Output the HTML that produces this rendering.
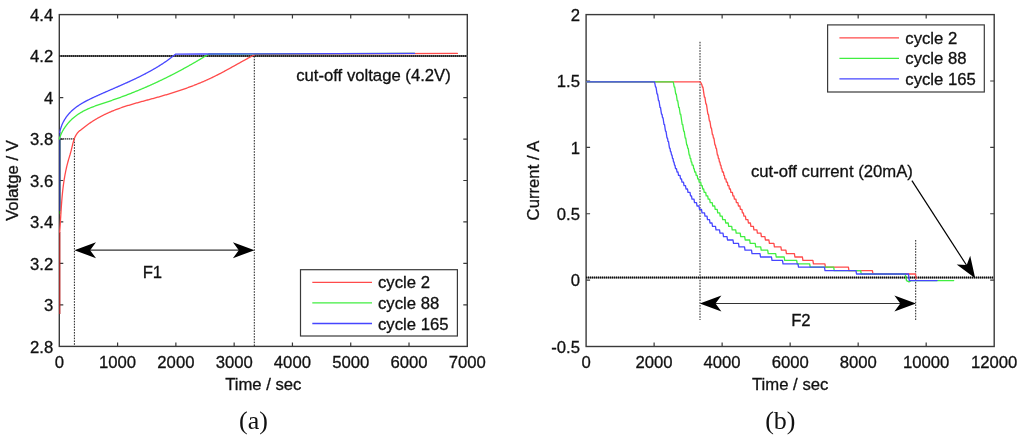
<!DOCTYPE html>
<html><head><meta charset="utf-8"><style>
html,body{margin:0;padding:0;background:#fff;}
body{width:1024px;height:441px;overflow:hidden;}
svg{display:block;font-family:"Liberation Sans", sans-serif;will-change:transform;}
svg text{fill:#111;stroke:#111;stroke-width:0.3px;}
</style></head><body>
<svg width="1024" height="441" viewBox="0 0 1024 441">
<rect x="59.3" y="14.6" width="408.0" height="331.8" fill="none" stroke="#3a3a3a" stroke-width="1.4"/>
<path d="M117.59 346.4v-4M117.59 14.6v4" stroke="#3a3a3a" stroke-width="1.2"/>
<path d="M175.87 346.4v-4M175.87 14.6v4" stroke="#3a3a3a" stroke-width="1.2"/>
<path d="M234.16 346.4v-4M234.16 14.6v4" stroke="#3a3a3a" stroke-width="1.2"/>
<path d="M292.44 346.4v-4M292.44 14.6v4" stroke="#3a3a3a" stroke-width="1.2"/>
<path d="M350.73 346.4v-4M350.73 14.6v4" stroke="#3a3a3a" stroke-width="1.2"/>
<path d="M409.01 346.4v-4M409.01 14.6v4" stroke="#3a3a3a" stroke-width="1.2"/>
<path d="M59.3 304.92h4M467.3 304.92h-4" stroke="#3a3a3a" stroke-width="1.2"/>
<path d="M59.3 263.45h4M467.3 263.45h-4" stroke="#3a3a3a" stroke-width="1.2"/>
<path d="M59.3 221.97h4M467.3 221.97h-4" stroke="#3a3a3a" stroke-width="1.2"/>
<path d="M59.3 180.50h4M467.3 180.50h-4" stroke="#3a3a3a" stroke-width="1.2"/>
<path d="M59.3 139.03h4M467.3 139.03h-4" stroke="#3a3a3a" stroke-width="1.2"/>
<path d="M59.3 97.55h4M467.3 97.55h-4" stroke="#3a3a3a" stroke-width="1.2"/>
<path d="M59.3 56.07h4M467.3 56.07h-4" stroke="#3a3a3a" stroke-width="1.2"/>
<line x1="59.3" y1="56.0" x2="467.3" y2="56.0" stroke="#888" stroke-width="1.8"/>
<line x1="59.3" y1="56.0" x2="467.3" y2="56.0" stroke="#000" stroke-width="2" stroke-dasharray="1 1"/>
<line x1="59.30" y1="138.80" x2="74.60" y2="138.80" stroke="#222" stroke-width="1.8" stroke-dasharray="1 1"/>
<line x1="74.40" y1="138.80" x2="74.40" y2="346.40" stroke="#222" stroke-width="1.0" stroke-dasharray="1.6 1.2"/>
<line x1="254.30" y1="56.00" x2="254.30" y2="346.40" stroke="#222" stroke-width="1.0" stroke-dasharray="1.6 1.2"/>
<path d="M59.8 314V232" stroke="#b52a2a" stroke-width="1.3" fill="none"/>
<path d="M59.8 214V139" stroke="#1e8a1e" stroke-width="1.3" fill="none"/>
<path d="M59.8 211V132" stroke="#2c2ca0" stroke-width="1.3" fill="none"/>
<polyline points="59.69,232.00 59.75,231.19 59.81,230.38 59.87,229.57 59.93,228.77 59.98,227.96 60.04,227.15 60.09,226.34 60.15,225.53 60.20,224.72 60.26,223.91 60.31,223.10 60.36,222.29 60.41,221.48 60.46,220.67 60.51,219.86 60.56,219.05 60.61,218.24 60.66,217.43 60.71,216.62 60.76,215.81 60.81,215.00 60.86,214.19 60.91,213.38 60.96,212.57 61.01,211.76 61.06,210.95 61.12,210.14 61.17,209.32 61.22,208.51 61.28,207.70 61.33,206.89 61.39,206.08 61.44,205.27 61.50,204.46 61.56,203.65 61.62,202.84 61.68,202.03 61.74,201.22 61.81,200.41 61.87,199.60 61.94,198.79 62.01,197.98 62.08,197.18 62.15,196.37 62.23,195.56 62.30,194.75 62.38,193.94 62.46,193.13 62.54,192.33 62.63,191.52 62.71,190.71 62.80,189.90 62.90,189.10 62.99,188.29 63.09,187.49 63.19,186.68 63.29,185.88 63.39,185.07 63.50,184.27 63.61,183.46 63.72,182.66 63.84,181.86 63.96,181.05 64.08,180.25 64.21,179.45 64.34,178.65 64.47,177.85 64.61,177.05 64.74,176.25 64.89,175.45 65.03,174.65 65.18,173.86 65.34,173.06 65.49,172.27 65.65,171.47 65.82,170.68 65.99,169.89 66.16,169.09 66.33,168.30 66.51,167.51 66.70,166.72 66.89,165.94 67.08,165.15 67.27,164.36 67.47,163.58 67.68,162.80 67.89,162.01 68.10,161.23 68.32,160.45 68.54,159.67 68.77,158.89 69.00,158.12 69.23,157.34 69.46,156.56 69.69,155.79 69.93,155.01 70.15,154.23 70.38,153.45 70.60,152.66 70.82,151.88 71.03,151.09 71.24,150.30 71.44,149.51 71.63,148.72 71.82,147.92 72.01,147.13 72.19,146.33 72.38,145.53 72.57,144.74 72.76,143.95 72.97,143.16 73.17,142.38 73.39,141.60 73.62,140.83 73.87,140.06 74.13,139.30 74.40,138.55 74.70,137.81 75.02,137.08 75.35,136.37 75.72,135.66 76.11,134.96 76.53,134.28 76.98,133.62 77.46,132.97 77.98,132.34 78.54,131.73 79.13,131.14 79.77,130.57 80.46,130.30 81.08,129.76 81.71,129.23 82.35,128.70 82.99,128.18 83.63,127.67 84.27,127.16 84.92,126.66 85.57,126.16 86.22,125.67 86.88,125.18 87.54,124.70 88.20,124.23 88.86,123.76 89.53,123.30 90.20,122.84 90.87,122.39 91.55,121.94 92.23,121.50 92.91,121.07 93.59,120.64 94.28,120.21 94.97,119.79 95.66,119.38 96.35,118.97 97.05,118.56 97.75,118.16 98.45,117.77 99.15,117.38 99.86,116.99 100.57,116.61 101.28,116.24 101.99,115.87 102.70,115.50 103.42,115.14 104.14,114.78 104.86,114.43 105.59,114.09 106.31,113.74 107.04,113.40 107.77,113.07 108.50,112.74 109.23,112.41 109.97,112.09 110.70,111.78 111.44,111.46 112.18,111.15 112.92,110.85 113.67,110.55 114.41,110.25 115.16,109.96 115.91,109.67 116.66,109.39 117.41,109.10 118.16,108.83 118.92,108.55 119.67,108.28 120.43,108.01 121.19,107.75 121.95,107.49 122.71,107.23 123.47,106.97 124.24,106.72 125.00,106.47 125.77,106.22 126.53,105.98 127.30,105.73 128.07,105.49 128.84,105.26 129.61,105.02 130.38,104.79 131.16,104.56 131.93,104.33 132.70,104.10 133.48,103.87 134.25,103.65 135.03,103.43 135.81,103.21 136.58,102.99 137.36,102.77 138.14,102.55 138.92,102.33 139.70,102.12 140.48,101.90 141.25,101.69 142.04,101.48 142.82,101.26 143.60,101.05 144.38,100.84 145.16,100.63 145.94,100.42 146.72,100.21 147.50,100.00 148.28,99.79 149.06,99.58 149.84,99.37 150.63,99.16 151.41,98.94 152.19,98.73 152.97,98.52 153.75,98.31 154.53,98.09 155.31,97.88 156.09,97.66 156.87,97.44 157.64,97.23 158.42,97.01 159.20,96.79 159.98,96.57 160.75,96.35 161.53,96.12 162.31,95.90 163.08,95.68 163.86,95.45 164.63,95.22 165.41,94.99 166.18,94.76 166.95,94.53 167.73,94.30 168.50,94.07 169.27,93.83 170.04,93.60 170.81,93.36 171.58,93.12 172.35,92.88 173.12,92.64 173.89,92.40 174.66,92.15 175.42,91.90 176.19,91.66 176.96,91.41 177.72,91.16 178.49,90.91 179.25,90.65 180.01,90.40 180.78,90.14 181.54,89.88 182.30,89.62 183.06,89.36 183.82,89.09 184.58,88.83 185.34,88.56 186.10,88.29 186.85,88.02 187.61,87.75 188.37,87.47 189.12,87.20 189.88,86.92 190.63,86.64 191.38,86.35 192.13,86.07 192.89,85.78 193.64,85.50 194.39,85.20 195.13,84.91 195.88,84.62 196.63,84.32 197.37,84.02 198.12,83.72 198.86,83.42 199.61,83.11 200.35,82.80 201.09,82.49 201.83,82.18 202.57,81.87 203.31,81.55 204.05,81.23 204.79,80.91 205.52,80.58 206.26,80.26 206.99,79.93 207.72,79.60 208.46,79.26 209.19,78.93 209.92,78.59 210.65,78.24 211.37,77.90 212.10,77.55 212.83,77.20 213.55,76.85 214.28,76.50 215.00,76.14 215.72,75.78 216.44,75.42 217.16,75.06 217.88,74.69 218.60,74.32 219.32,73.95 220.03,73.58 220.75,73.21 221.46,72.83 222.18,72.45 222.89,72.08 223.61,71.70 224.32,71.31 225.03,70.93 225.74,70.55 226.45,70.16 227.16,69.78 227.87,69.39 228.58,69.00 229.29,68.61 230.00,68.22 230.71,67.83 231.42,67.44 232.12,67.05 232.83,66.65 233.54,66.26 234.25,65.87 234.95,65.47 235.66,65.08 236.37,64.69 237.07,64.29 237.78,63.90 238.48,63.51 239.19,63.11 239.90,62.72 240.60,62.33 241.31,61.94 242.02,61.54 242.72,61.15 243.43,60.76 244.14,60.37 244.84,59.98 245.55,59.60 246.26,59.21 246.97,58.82 247.67,58.44 248.38,58.05 249.09,57.67 249.80,57.29 250.51,56.91 251.22,56.53 251.93,56.16 252.64,55.78 253.35,55.41 254.07,55.04 254.78,54.67 255.49,54.31 300.00,54.00 457.40,53.40" fill="none" stroke="#ff4a4a" stroke-width="1.3" stroke-linejoin="round" stroke-linecap="round"/>
<polyline points="59.34,138.99 59.57,138.22 59.82,137.45 60.08,136.69 60.36,135.93 60.66,135.18 60.97,134.43 61.30,133.70 61.65,132.96 62.00,132.24 62.37,131.52 62.76,130.80 63.16,130.10 63.57,129.40 64.00,128.71 64.44,128.03 64.89,127.35 65.35,126.68 65.83,126.02 66.32,125.37 66.82,124.72 67.33,124.09 67.85,123.46 68.38,122.84 68.92,122.24 69.47,121.64 70.04,121.05 70.61,120.47 71.19,119.90 71.77,119.34 72.37,118.79 72.97,118.24 73.59,117.72 74.21,117.20 74.83,116.69 75.47,116.19 76.11,115.70 76.76,115.23 77.41,114.77 78.07,114.31 78.74,113.87 79.41,113.44 80.08,113.02 80.76,112.61 81.45,112.20 82.14,111.81 82.84,111.42 83.54,111.05 84.25,110.68 84.96,110.32 85.67,109.97 86.39,109.62 87.12,109.29 87.84,108.96 88.57,108.63 89.31,108.31 90.05,108.00 90.79,107.69 91.53,107.39 92.28,107.10 93.02,106.81 93.78,106.52 94.53,106.24 95.29,105.96 96.04,105.68 96.80,105.41 97.57,105.14 98.33,104.88 99.10,104.61 99.86,104.35 100.63,104.09 101.40,103.84 102.17,103.58 102.94,103.33 103.71,103.07 104.48,102.82 105.25,102.57 106.02,102.31 106.79,102.06 107.56,101.80 108.33,101.55 109.10,101.29 109.87,101.03 110.64,100.77 111.40,100.51 112.17,100.25 112.94,99.99 113.70,99.72 114.47,99.46 115.23,99.19 115.99,98.92 116.76,98.65 117.52,98.38 118.28,98.11 119.04,97.83 119.80,97.56 120.56,97.28 121.32,97.00 122.08,96.72 122.83,96.44 123.59,96.16 124.35,95.88 125.10,95.59 125.86,95.31 126.61,95.02 127.37,94.73 128.12,94.44 128.87,94.15 129.62,93.86 130.38,93.56 131.13,93.27 131.88,92.97 132.63,92.68 133.37,92.38 134.12,92.08 134.87,91.77 135.62,91.47 136.36,91.17 137.11,90.86 137.85,90.56 138.60,90.25 139.34,89.94 140.09,89.63 140.83,89.32 141.57,89.00 142.31,88.69 143.05,88.37 143.79,88.06 144.53,87.74 145.27,87.42 146.01,87.10 146.75,86.78 147.48,86.45 148.22,86.13 148.96,85.80 149.69,85.47 150.43,85.15 151.16,84.82 151.90,84.48 152.63,84.15 153.36,83.82 154.09,83.48 154.82,83.15 155.55,82.81 156.28,82.47 157.01,82.13 157.74,81.79 158.47,81.45 159.20,81.11 159.93,80.76 160.65,80.41 161.38,80.07 162.10,79.72 162.83,79.37 163.55,79.02 164.28,78.66 165.00,78.31 165.72,77.96 166.45,77.60 167.17,77.24 167.89,76.88 168.61,76.52 169.33,76.16 170.05,75.80 170.77,75.44 171.48,75.07 172.20,74.71 172.92,74.34 173.63,73.97 174.35,73.60 175.07,73.23 175.78,72.86 176.49,72.48 177.21,72.11 177.92,71.73 178.63,71.36 179.35,70.98 180.06,70.60 180.77,70.22 181.48,69.84 182.19,69.45 182.90,69.07 183.61,68.68 184.31,68.30 185.02,67.91 185.73,67.52 186.44,67.13 187.14,66.74 187.85,66.34 188.55,65.95 189.26,65.55 189.96,65.16 190.66,64.76 191.37,64.36 192.07,63.96 192.77,63.56 193.47,63.16 194.17,62.75 194.87,62.35 195.57,61.94 196.27,61.54 196.97,61.13 197.67,60.72 198.37,60.31 199.07,59.89 199.76,59.48 200.46,59.07 201.15,58.65 201.85,58.23 202.54,57.82 203.24,57.40 203.93,56.98 204.62,56.55 205.32,56.13 206.01,55.71 206.70,55.28 207.39,54.86 208.08,54.43 208.77,54.00 240.00,54.00 414.60,53.40" fill="none" stroke="#40ee40" stroke-width="1.3" stroke-linejoin="round" stroke-linecap="round"/>
<polyline points="59.70,132.43 59.89,131.53 60.10,130.64 60.32,129.77 60.56,128.92 60.82,128.07 61.09,127.25 61.38,126.43 61.68,125.63 61.99,124.84 62.32,124.06 62.67,123.30 63.02,122.55 63.40,121.81 63.78,121.08 64.18,120.37 64.59,119.67 65.01,118.98 65.45,118.30 65.89,117.64 66.35,116.98 66.82,116.34 67.31,115.71 67.80,115.09 68.30,114.48 68.82,113.88 69.34,113.30 69.88,112.72 70.42,112.15 70.98,111.60 71.54,111.05 72.12,110.52 72.70,109.99 73.29,109.47 73.89,108.97 74.50,108.47 75.11,107.98 75.74,107.50 76.37,107.03 77.01,106.57 77.65,106.11 78.30,105.66 78.96,105.22 79.62,104.79 80.29,104.37 80.97,103.95 81.65,103.53 82.34,103.13 83.03,102.73 83.73,102.33 84.43,101.94 85.13,101.56 85.84,101.18 86.55,100.81 87.27,100.44 87.99,100.07 88.71,99.71 89.44,99.35 90.17,99.00 90.90,98.65 91.63,98.30 92.36,97.95 93.10,97.61 93.83,97.27 94.57,96.93 95.31,96.59 96.05,96.25 96.79,95.92 97.53,95.58 98.27,95.25 99.01,94.92 99.75,94.59 100.49,94.26 101.23,93.93 101.97,93.60 102.72,93.27 103.46,92.94 104.20,92.62 104.94,92.29 105.68,91.96 106.42,91.64 107.17,91.31 107.91,90.99 108.65,90.67 109.39,90.34 110.13,90.02 110.88,89.70 111.62,89.37 112.36,89.05 113.10,88.73 113.84,88.41 114.58,88.08 115.33,87.76 116.07,87.44 116.81,87.11 117.55,86.79 118.29,86.47 119.03,86.14 119.76,85.82 120.50,85.49 121.24,85.17 121.98,84.84 122.72,84.51 123.45,84.19 124.19,83.86 124.93,83.53 125.66,83.20 126.40,82.87 127.13,82.54 127.87,82.20 128.60,81.87 129.33,81.54 130.06,81.20 130.80,80.86 131.53,80.53 132.26,80.19 132.98,79.85 133.71,79.50 134.44,79.16 135.17,78.81 135.89,78.47 136.62,78.12 137.34,77.77 138.07,77.42 138.79,77.07 139.51,76.71 140.23,76.35 140.95,76.00 141.67,75.64 142.38,75.27 143.10,74.91 143.81,74.54 144.53,74.17 145.24,73.80 145.95,73.43 146.66,73.05 147.37,72.68 148.08,72.30 148.79,71.91 149.49,71.53 150.20,71.14 150.90,70.75 151.60,70.36 152.30,69.96 153.00,69.56 153.70,69.16 154.39,68.76 155.09,68.35 155.78,67.94 156.47,67.53 157.16,67.11 157.85,66.70 158.54,66.27 159.22,65.85 159.91,65.42 160.59,64.99 161.27,64.55 161.95,64.12 162.63,63.67 163.30,63.23 163.97,62.78 164.65,62.33 165.32,61.87 165.98,61.41 166.65,60.95 167.32,60.48 167.98,60.01 168.64,59.53 169.30,59.05 169.95,58.57 170.61,58.08 171.26,57.59 171.91,57.10 172.56,56.60 173.21,56.09 173.85,55.59 174.50,55.07 175.14,54.56 175.78,54.04 200.00,54.00 414.60,53.40" fill="none" stroke="#4646ff" stroke-width="1.3" stroke-linejoin="round" stroke-linecap="round"/>
<text x="59.3" y="367.8" text-anchor="middle" font-size="16.7" >0</text>
<text x="117.6" y="367.8" text-anchor="middle" font-size="16.7" >1000</text>
<text x="175.9" y="367.8" text-anchor="middle" font-size="16.7" >2000</text>
<text x="234.2" y="367.8" text-anchor="middle" font-size="16.7" >3000</text>
<text x="292.4" y="367.8" text-anchor="middle" font-size="16.7" >4000</text>
<text x="350.7" y="367.8" text-anchor="middle" font-size="16.7" >5000</text>
<text x="409.0" y="367.8" text-anchor="middle" font-size="16.7" >6000</text>
<text x="467.3" y="367.8" text-anchor="middle" font-size="16.7" >7000</text>
<text x="53.2" y="352.5" text-anchor="end" font-size="16.7" >2.8</text>
<text x="53.2" y="311.0" text-anchor="end" font-size="16.7" >3</text>
<text x="53.2" y="269.6" text-anchor="end" font-size="16.7" >3.2</text>
<text x="53.2" y="228.1" text-anchor="end" font-size="16.7" >3.4</text>
<text x="53.2" y="186.6" text-anchor="end" font-size="16.7" >3.6</text>
<text x="53.2" y="145.1" text-anchor="end" font-size="16.7" >3.8</text>
<text x="53.2" y="103.6" text-anchor="end" font-size="16.7" >4</text>
<text x="53.2" y="62.2" text-anchor="end" font-size="16.7" >4.2</text>
<text x="53.2" y="20.7" text-anchor="end" font-size="16.7" >4.4</text>
<text x="263.3" y="389.6" text-anchor="middle" font-size="16.7" >Time / sec</text>
<text transform="translate(17.9,180.5) rotate(-90)" text-anchor="middle" font-size="16.7">Volatge / V</text>
<text x="253.5" y="428.5" text-anchor="middle" font-size="26" font-family="Liberation Serif, serif" style="stroke:none">(a)</text>
<text x="296.2" y="81.1" text-anchor="start" font-size="16.7" >cut-off voltage (4.2V)</text>
<line x1="88" y1="250.2" x2="241" y2="250.2" stroke="#333" stroke-width="1.3"/>
<polygon points="74.4,250.2 96.0,242.2 90.1,250.2 96.0,258.2" fill="#000"/>
<polygon points="254.5,250.2 232.9,258.2 238.8,250.2 232.9,242.2" fill="#000"/>
<text x="152.4" y="277.5" text-anchor="middle" font-size="16.7" >F1</text>
<rect x="300.5" y="269.7" width="156.9" height="66.3" fill="#fff" stroke="#3a3a3a" stroke-width="1.2"/>
<line x1="312.3" y1="282.4" x2="372" y2="282.4" stroke="#ff4a4a" stroke-width="1.3"/>
<text x="378.0" y="288.4" text-anchor="start" font-size="16.7" >cycle 2</text>
<line x1="312.3" y1="302.8" x2="372" y2="302.8" stroke="#40ee40" stroke-width="1.3"/>
<text x="378.0" y="308.8" text-anchor="start" font-size="16.7" >cycle 88</text>
<line x1="312.3" y1="323.5" x2="372" y2="323.5" stroke="#4646ff" stroke-width="1.3"/>
<text x="378.0" y="329.5" text-anchor="start" font-size="16.7" >cycle 165</text>
<rect x="586.1" y="14.6" width="408.1" height="331.9" fill="none" stroke="#3a3a3a" stroke-width="1.4"/>
<path d="M654.12 346.5v-4M654.12 14.6v4" stroke="#3a3a3a" stroke-width="1.2"/>
<path d="M722.13 346.5v-4M722.13 14.6v4" stroke="#3a3a3a" stroke-width="1.2"/>
<path d="M790.15 346.5v-4M790.15 14.6v4" stroke="#3a3a3a" stroke-width="1.2"/>
<path d="M858.17 346.5v-4M858.17 14.6v4" stroke="#3a3a3a" stroke-width="1.2"/>
<path d="M926.18 346.5v-4M926.18 14.6v4" stroke="#3a3a3a" stroke-width="1.2"/>
<path d="M586.1 280.12h4M994.2 280.12h-4" stroke="#3a3a3a" stroke-width="1.2"/>
<path d="M586.1 213.74h4M994.2 213.74h-4" stroke="#3a3a3a" stroke-width="1.2"/>
<path d="M586.1 147.36h4M994.2 147.36h-4" stroke="#3a3a3a" stroke-width="1.2"/>
<path d="M586.1 80.98h4M994.2 80.98h-4" stroke="#3a3a3a" stroke-width="1.2"/>
<line x1="586.1" y1="277.6" x2="994.2" y2="277.6" stroke="#888" stroke-width="1.8"/>
<line x1="586.1" y1="277.6" x2="994.2" y2="277.6" stroke="#000" stroke-width="2" stroke-dasharray="1 1"/>
<line x1="700.00" y1="41.80" x2="700.00" y2="320.00" stroke="#222" stroke-width="1.0" stroke-dasharray="1.6 1.2"/>
<line x1="915.70" y1="240.00" x2="915.70" y2="320.00" stroke="#222" stroke-width="1.0" stroke-dasharray="1.6 1.2"/>
<polyline points="586.80,81.80 699.90,81.80 700.40,82.18 700.90,82.88 701.40,83.79 701.90,84.87 702.40,87.00 702.90,87.00 703.40,90.40 703.90,93.80 704.40,97.20 704.90,97.20 705.40,100.60 705.90,104.00 706.40,104.00 706.90,107.40 707.40,110.80 707.90,114.20 708.40,114.20 708.90,117.60 709.40,121.00 709.90,121.00 710.40,124.40 710.90,127.80 711.40,127.80 711.90,131.20 712.40,134.60 712.90,134.60 713.40,138.00 713.90,138.00 714.40,141.40 714.90,144.80 715.40,144.80 715.90,148.20 716.40,148.20 716.90,151.60 717.40,155.00 717.90,155.00 718.40,158.40 718.90,158.40 719.40,161.80 719.90,161.80 720.40,165.20 720.90,165.20 721.40,168.60 721.90,168.60 722.40,172.00 722.90,172.00 723.40,172.00 723.90,175.40 724.40,175.40 724.90,178.80 725.40,178.80 725.90,178.80 726.40,182.20 726.90,182.20 727.40,182.20 727.90,185.60 728.40,185.60 728.90,185.60 729.40,189.00 729.90,189.00 730.40,189.00 730.90,192.40 731.40,192.40 731.90,192.40 732.40,192.40 732.90,195.80 733.40,195.80 733.90,195.80 734.40,199.20 734.90,199.20 735.40,199.20 735.90,199.20 736.40,202.60 736.90,202.60 737.40,202.60 737.90,202.60 738.40,206.00 738.90,206.00 739.40,206.00 739.90,206.00 740.40,209.40 740.90,209.40 741.40,209.40 741.90,209.40 742.40,212.80 742.90,212.80 743.40,212.80 743.90,216.20 744.40,216.20 744.90,216.20 745.40,216.20 745.90,219.60 746.40,219.60 746.90,219.60 747.40,219.60 747.90,219.60 748.40,223.00 748.90,223.00 749.40,223.00 749.90,223.00 750.40,223.00 750.90,226.40 751.40,226.40 751.90,226.40 752.40,226.40 752.90,226.40 753.40,226.40 753.90,229.80 754.40,229.80 754.90,229.80 755.40,229.80 755.90,229.80 756.40,229.80 756.90,229.80 757.40,233.20 757.90,233.20 758.40,233.20 758.90,233.20 759.40,233.20 759.90,233.20 760.40,233.20 760.90,233.20 761.40,236.60 761.90,236.60 762.40,236.60 762.90,236.60 763.40,236.60 763.90,236.60 764.40,236.60 764.90,236.60 765.40,240.00 765.90,240.00 766.40,240.00 766.90,240.00 767.40,240.00 767.90,240.00 768.40,240.00 768.90,240.00 769.40,243.40 769.90,243.40 770.40,243.40 770.90,243.40 771.40,243.40 771.90,243.40 772.40,243.40 772.90,243.40 773.40,243.40 773.90,243.40 774.40,246.80 774.90,246.80 775.40,246.80 775.90,246.80 776.40,246.80 776.90,246.80 777.40,246.80 777.90,246.80 778.40,246.80 778.90,246.80 779.40,246.80 779.90,246.80 780.40,246.80 780.90,246.80 781.40,250.20 781.90,250.20 782.40,250.20 782.90,250.20 783.40,250.20 783.90,250.20 784.40,250.20 784.90,250.20 785.40,250.20 785.90,250.20 786.40,253.60 786.90,253.60 787.40,253.60 787.90,253.60 788.40,253.60 788.90,253.60 789.40,253.60 789.90,253.60 790.40,253.60 790.90,253.60 791.40,253.60 791.90,253.60 792.40,253.60 792.90,253.60 793.40,253.60 793.90,253.60 794.40,253.60 794.90,257.00 795.40,257.00 795.90,257.00 796.40,257.00 796.90,257.00 797.40,257.00 797.90,257.00 798.40,257.00 798.90,257.00 799.40,257.00 799.90,257.00 800.40,257.00 800.90,257.00 801.40,257.00 801.90,257.00 802.40,257.00 802.90,260.40 803.40,260.40 803.90,260.40 804.40,260.40 804.90,260.40 805.40,260.40 805.90,260.40 806.40,260.40 806.90,260.40 807.40,260.40 807.90,260.40 808.40,260.40 808.90,260.40 809.40,260.40 809.90,260.40 810.40,260.40 810.90,260.40 811.40,260.40 811.90,260.40 812.40,260.40 812.90,260.40 813.40,263.80 813.90,263.80 814.40,263.80 814.90,263.80 815.40,263.80 815.90,263.80 816.40,263.80 816.90,263.80 817.40,263.80 817.90,263.80 818.40,263.80 818.90,263.80 819.40,263.80 819.90,263.80 820.40,263.80 820.90,263.80 821.40,263.80 821.90,263.80 822.40,263.80 822.90,263.80 823.40,263.80 823.90,263.80 824.40,263.80 824.90,263.80 825.40,267.20 825.90,267.20 826.40,267.20 826.90,267.20 827.40,267.20 827.90,267.20 828.40,267.20 828.90,267.20 829.40,267.20 829.90,267.20 830.40,267.20 830.90,267.20 831.40,267.20 831.90,267.20 832.40,267.20 832.90,267.20 833.40,267.20 833.90,267.20 834.40,267.20 834.90,267.20 835.40,267.20 835.90,267.20 836.40,267.20 836.90,267.20 837.40,267.20 837.90,267.20 838.40,267.20 838.90,267.20 839.40,267.20 839.90,267.20 840.40,267.20 840.90,267.20 841.40,267.20 841.90,267.20 842.40,267.20 842.90,267.20 843.40,267.20 843.90,267.20 844.40,267.20 844.90,267.20 845.40,267.20 845.90,267.20 846.40,267.20 846.90,267.20 847.40,267.20 847.90,267.20 848.40,267.20 848.90,270.60 849.40,270.60 849.90,270.60 850.40,270.60 850.90,270.60 851.40,270.60 851.90,270.60 852.40,270.60 852.90,270.60 853.40,270.60 853.90,270.60 854.40,270.60 854.90,270.60 855.40,270.60 855.90,270.60 856.40,270.60 856.90,270.60 857.40,270.60 857.90,270.60 858.40,270.60 858.90,270.60 859.40,270.60 859.90,270.60 860.40,270.60 860.90,270.60 861.40,270.60 861.90,270.60 862.40,270.60 862.90,270.60 863.40,270.60 863.90,270.60 864.40,270.60 864.90,270.60 865.40,270.60 865.90,270.60 866.40,270.60 866.90,270.60 867.40,270.60 867.90,270.60 868.40,270.60 868.90,270.60 869.40,270.60 869.90,270.60 870.40,270.60 870.90,270.60 871.40,270.60 871.90,270.60 872.40,270.60 872.90,274.00 873.40,274.00 873.90,274.00 874.40,274.00 874.90,274.00 875.40,274.00 875.90,274.00 876.40,274.00 876.90,274.00 877.40,274.00 877.90,274.00 878.40,274.00 878.90,274.00 879.40,274.00 879.90,274.00 880.40,274.00 880.90,274.00 881.40,274.00 881.90,274.00 882.40,274.00 882.90,274.00 883.40,274.00 883.90,274.00 884.40,274.00 884.90,274.00 885.40,274.00 885.90,274.00 886.40,274.00 886.90,274.00 887.40,274.00 887.90,274.00 888.40,274.00 888.90,274.00 889.40,274.00 889.90,274.00 890.40,274.00 890.90,274.00 891.40,274.00 891.90,274.00 892.40,274.00 892.90,274.00 893.40,274.00 893.90,274.00 894.40,274.00 894.90,274.00 895.40,274.00 895.90,274.00 896.40,274.00 896.90,274.00 897.40,274.00 897.90,274.00 898.40,274.00 898.90,274.00 899.40,274.00 899.90,274.00 900.40,274.00 900.90,274.00 901.40,274.00 901.90,274.00 902.40,274.00 902.90,274.00 903.40,274.00 903.90,274.00 904.40,274.00 904.90,274.00 905.40,274.00 905.90,274.00 906.40,274.00 906.90,274.00 907.40,274.00 907.90,274.00 908.40,274.00 908.90,274.00 909.40,274.00 909.90,274.00 910.40,274.00 910.90,274.00 911.40,274.00 911.90,274.00 912.40,274.00 912.90,274.00 913.40,274.00 913.90,274.00 914.40,274.00 914.90,274.00 915.40,274.00 916.20,278.40" fill="none" stroke="#ff4a4a" stroke-width="1.3" stroke-linejoin="round" stroke-linecap="round"/>
<polyline points="586.80,81.80 673.20,81.80 673.70,84.07 674.20,87.00 674.70,87.00 675.20,90.40 675.70,93.80 676.20,93.80 676.70,97.20 677.20,100.60 677.70,100.60 678.20,104.00 678.70,107.40 679.20,107.40 679.70,110.80 680.20,114.20 680.70,114.20 681.20,117.60 681.70,121.00 682.20,124.40 682.70,124.40 683.20,127.80 683.70,131.20 684.20,131.20 684.70,134.60 685.20,138.00 685.70,138.00 686.20,141.40 686.70,144.80 687.20,144.80 687.70,148.20 688.20,148.20 688.70,151.60 689.20,155.00 689.70,155.00 690.20,158.40 690.70,158.40 691.20,161.80 691.70,161.80 692.20,165.20 692.70,165.20 693.20,165.20 693.70,168.60 694.20,168.60 694.70,172.00 695.20,172.00 695.70,172.00 696.20,175.40 696.70,175.40 697.20,175.40 697.70,178.80 698.20,178.80 698.70,178.80 699.20,182.20 699.70,182.20 700.20,182.20 700.70,182.20 701.20,185.60 701.70,185.60 702.20,185.60 702.70,189.00 703.20,189.00 703.70,189.00 704.20,192.40 704.70,192.40 705.20,192.40 705.70,192.40 706.20,195.80 706.70,195.80 707.20,195.80 707.70,195.80 708.20,199.20 708.70,199.20 709.20,199.20 709.70,199.20 710.20,202.60 710.70,202.60 711.20,202.60 711.70,202.60 712.20,202.60 712.70,206.00 713.20,206.00 713.70,206.00 714.20,206.00 714.70,206.00 715.20,209.40 715.70,209.40 716.20,209.40 716.70,209.40 717.20,209.40 717.70,212.80 718.20,212.80 718.70,212.80 719.20,212.80 719.70,212.80 720.20,216.20 720.70,216.20 721.20,216.20 721.70,216.20 722.20,216.20 722.70,219.60 723.20,219.60 723.70,219.60 724.20,219.60 724.70,219.60 725.20,219.60 725.70,223.00 726.20,223.00 726.70,223.00 727.20,223.00 727.70,223.00 728.20,223.00 728.70,226.40 729.20,226.40 729.70,226.40 730.20,226.40 730.70,226.40 731.20,226.40 731.70,226.40 732.20,229.80 732.70,229.80 733.20,229.80 733.70,229.80 734.20,229.80 734.70,229.80 735.20,229.80 735.70,229.80 736.20,233.20 736.70,233.20 737.20,233.20 737.70,233.20 738.20,233.20 738.70,233.20 739.20,233.20 739.70,233.20 740.20,233.20 740.70,236.60 741.20,236.60 741.70,236.60 742.20,236.60 742.70,236.60 743.20,236.60 743.70,236.60 744.20,236.60 744.70,236.60 745.20,240.00 745.70,240.00 746.20,240.00 746.70,240.00 747.20,240.00 747.70,240.00 748.20,240.00 748.70,240.00 749.20,240.00 749.70,240.00 750.20,243.40 750.70,243.40 751.20,243.40 751.70,243.40 752.20,243.40 752.70,243.40 753.20,243.40 753.70,243.40 754.20,243.40 754.70,243.40 755.20,243.40 755.70,246.80 756.20,246.80 756.70,246.80 757.20,246.80 757.70,246.80 758.20,246.80 758.70,246.80 759.20,246.80 759.70,246.80 760.20,246.80 760.70,246.80 761.20,250.20 761.70,250.20 762.20,250.20 762.70,250.20 763.20,250.20 763.70,250.20 764.20,250.20 764.70,250.20 765.20,250.20 765.70,250.20 766.20,250.20 766.70,250.20 767.20,250.20 767.70,250.20 768.20,253.60 768.70,253.60 769.20,253.60 769.70,253.60 770.20,253.60 770.70,253.60 771.20,253.60 771.70,253.60 772.20,253.60 772.70,253.60 773.20,253.60 773.70,253.60 774.20,253.60 774.70,253.60 775.20,253.60 775.70,253.60 776.20,257.00 776.70,257.00 777.20,257.00 777.70,257.00 778.20,257.00 778.70,257.00 779.20,257.00 779.70,257.00 780.20,257.00 780.70,257.00 781.20,257.00 781.70,257.00 782.20,257.00 782.70,257.00 783.20,257.00 783.70,257.00 784.20,257.00 784.70,260.40 785.20,260.40 785.70,260.40 786.20,260.40 786.70,260.40 787.20,260.40 787.70,260.40 788.20,260.40 788.70,260.40 789.20,260.40 789.70,260.40 790.20,260.40 790.70,260.40 791.20,260.40 791.70,260.40 792.20,260.40 792.70,260.40 793.20,260.40 793.70,260.40 794.20,260.40 794.70,260.40 795.20,260.40 795.70,260.40 796.20,260.40 796.70,260.40 797.20,263.80 797.70,263.80 798.20,263.80 798.70,263.80 799.20,263.80 799.70,263.80 800.20,263.80 800.70,263.80 801.20,263.80 801.70,263.80 802.20,263.80 802.70,263.80 803.20,263.80 803.70,263.80 804.20,263.80 804.70,263.80 805.20,263.80 805.70,263.80 806.20,263.80 806.70,263.80 807.20,263.80 807.70,263.80 808.20,263.80 808.70,263.80 809.20,263.80 809.70,263.80 810.20,267.20 810.70,267.20 811.20,267.20 811.70,267.20 812.20,267.20 812.70,267.20 813.20,267.20 813.70,267.20 814.20,267.20 814.70,267.20 815.20,267.20 815.70,267.20 816.20,267.20 816.70,267.20 817.20,267.20 817.70,267.20 818.20,267.20 818.70,267.20 819.20,267.20 819.70,267.20 820.20,267.20 820.70,267.20 821.20,267.20 821.70,267.20 822.20,267.20 822.70,267.20 823.20,267.20 823.70,267.20 824.20,267.20 824.70,267.20 825.20,267.20 825.70,267.20 826.20,267.20 826.70,267.20 827.20,267.20 827.70,267.20 828.20,267.20 828.70,267.20 829.20,267.20 829.70,267.20 830.20,267.20 830.70,267.20 831.20,267.20 831.70,267.20 832.20,267.20 832.70,267.20 833.20,267.20 833.70,267.20 834.20,270.60 834.70,270.60 835.20,270.60 835.70,270.60 836.20,270.60 836.70,270.60 837.20,270.60 837.70,270.60 838.20,270.60 838.70,270.60 839.20,270.60 839.70,270.60 840.20,270.60 840.70,270.60 841.20,270.60 841.70,270.60 842.20,270.60 842.70,270.60 843.20,270.60 843.70,270.60 844.20,270.60 844.70,270.60 845.20,270.60 845.70,270.60 846.20,270.60 846.70,270.60 847.20,270.60 847.70,270.60 848.20,270.60 848.70,270.60 849.20,270.60 849.70,270.60 850.20,270.60 850.70,270.60 851.20,270.60 851.70,270.60 852.20,270.60 852.70,270.60 853.20,270.60 853.70,270.60 854.20,270.60 854.70,270.60 855.20,270.60 855.70,270.60 856.20,270.60 856.70,270.60 857.20,270.60 857.70,270.60 858.20,270.60 858.70,270.60 859.20,270.60 859.70,270.60 860.20,270.60 860.70,270.60 861.20,274.00 861.70,274.00 862.20,274.00 862.70,274.00 863.20,274.00 863.70,274.00 864.20,274.00 864.70,274.00 865.20,274.00 865.70,274.00 866.20,274.00 866.70,274.00 867.20,274.00 867.70,274.00 868.20,274.00 868.70,274.00 869.20,274.00 869.70,274.00 870.20,274.00 870.70,274.00 871.20,274.00 871.70,274.00 872.20,274.00 872.70,274.00 873.20,274.00 873.70,274.00 874.20,274.00 874.70,274.00 875.20,274.00 875.70,274.00 876.20,274.00 876.70,274.00 877.20,274.00 877.70,274.00 878.20,274.00 878.70,274.00 879.20,274.00 879.70,274.00 880.20,274.00 880.70,274.00 881.20,274.00 881.70,274.00 882.20,274.00 882.70,274.00 883.20,274.00 883.70,274.00 884.20,274.00 884.70,274.00 885.20,274.00 885.70,274.00 886.20,274.00 886.70,274.00 887.20,274.00 887.70,274.00 888.20,274.00 888.70,274.00 889.20,274.00 889.70,274.00 890.20,274.00 890.70,274.00 891.20,274.00 891.70,274.00 892.20,274.00 892.70,274.00 893.20,274.00 893.70,274.00 894.20,274.00 894.70,274.00 895.20,274.00 895.70,274.00 896.20,274.00 896.70,274.00 897.20,274.00 897.70,274.00 898.20,274.00 898.70,274.00 899.20,274.00 899.70,274.00 900.20,274.00 900.70,274.00 901.20,274.00 901.70,274.00 902.20,274.00 902.70,274.00 903.20,274.00 903.70,274.00 904.20,274.00 904.70,274.00 905.20,274.00 906.50,280.60 909.00,281.90 911.00,280.60 953.70,280.60" fill="none" stroke="#40ee40" stroke-width="1.3" stroke-linejoin="round" stroke-linecap="round"/>
<polyline points="586.80,81.80 654.50,81.80 655.00,84.06 655.50,87.00 656.00,87.00 656.50,90.40 657.00,93.80 657.50,93.80 658.00,97.20 658.50,100.60 659.00,100.60 659.50,104.00 660.00,107.40 660.50,107.40 661.00,110.80 661.50,114.20 662.00,114.20 662.50,117.60 663.00,117.60 663.50,121.00 664.00,124.40 664.50,124.40 665.00,127.80 665.50,131.20 666.00,131.20 666.50,134.60 667.00,138.00 667.50,138.00 668.00,141.40 668.50,141.40 669.00,144.80 669.50,148.20 670.00,148.20 670.50,151.60 671.00,151.60 671.50,155.00 672.00,155.00 672.50,158.40 673.00,158.40 673.50,161.80 674.00,161.80 674.50,165.20 675.00,165.20 675.50,168.60 676.00,168.60 676.50,168.60 677.00,172.00 677.50,172.00 678.00,172.00 678.50,175.40 679.00,175.40 679.50,175.40 680.00,175.40 680.50,178.80 681.00,178.80 681.50,178.80 682.00,182.20 682.50,182.20 683.00,182.20 683.50,182.20 684.00,185.60 684.50,185.60 685.00,185.60 685.50,185.60 686.00,189.00 686.50,189.00 687.00,189.00 687.50,189.00 688.00,192.40 688.50,192.40 689.00,192.40 689.50,192.40 690.00,192.40 690.50,195.80 691.00,195.80 691.50,195.80 692.00,199.20 692.50,199.20 693.00,199.20 693.50,199.20 694.00,199.20 694.50,202.60 695.00,202.60 695.50,202.60 696.00,202.60 696.50,202.60 697.00,206.00 697.50,206.00 698.00,206.00 698.50,206.00 699.00,206.00 699.50,209.40 700.00,209.40 700.50,209.40 701.00,209.40 701.50,209.40 702.00,212.80 702.50,212.80 703.00,212.80 703.50,212.80 704.00,212.80 704.50,212.80 705.00,216.20 705.50,216.20 706.00,216.20 706.50,216.20 707.00,216.20 707.50,219.60 708.00,219.60 708.50,219.60 709.00,219.60 709.50,219.60 710.00,223.00 710.50,223.00 711.00,223.00 711.50,223.00 712.00,223.00 712.50,226.40 713.00,226.40 713.50,226.40 714.00,226.40 714.50,226.40 715.00,226.40 715.50,226.40 716.00,229.80 716.50,229.80 717.00,229.80 717.50,229.80 718.00,229.80 718.50,229.80 719.00,229.80 719.50,229.80 720.00,233.20 720.50,233.20 721.00,233.20 721.50,233.20 722.00,233.20 722.50,233.20 723.00,233.20 723.50,236.60 724.00,236.60 724.50,236.60 725.00,236.60 725.50,236.60 726.00,236.60 726.50,236.60 727.00,236.60 727.50,240.00 728.00,240.00 728.50,240.00 729.00,240.00 729.50,240.00 730.00,240.00 730.50,240.00 731.00,240.00 731.50,240.00 732.00,240.00 732.50,240.00 733.00,240.00 733.50,243.40 734.00,243.40 734.50,243.40 735.00,243.40 735.50,243.40 736.00,243.40 736.50,243.40 737.00,243.40 737.50,243.40 738.00,243.40 738.50,243.40 739.00,246.80 739.50,246.80 740.00,246.80 740.50,246.80 741.00,246.80 741.50,246.80 742.00,246.80 742.50,246.80 743.00,246.80 743.50,246.80 744.00,246.80 744.50,246.80 745.00,250.20 745.50,250.20 746.00,250.20 746.50,250.20 747.00,250.20 747.50,250.20 748.00,250.20 748.50,250.20 749.00,250.20 749.50,250.20 750.00,250.20 750.50,250.20 751.00,250.20 751.50,250.20 752.00,253.60 752.50,253.60 753.00,253.60 753.50,253.60 754.00,253.60 754.50,253.60 755.00,253.60 755.50,253.60 756.00,253.60 756.50,253.60 757.00,253.60 757.50,253.60 758.00,253.60 758.50,253.60 759.00,253.60 759.50,253.60 760.00,253.60 760.50,257.00 761.00,257.00 761.50,257.00 762.00,257.00 762.50,257.00 763.00,257.00 763.50,257.00 764.00,257.00 764.50,257.00 765.00,257.00 765.50,257.00 766.00,257.00 766.50,257.00 767.00,257.00 767.50,257.00 768.00,257.00 768.50,257.00 769.00,257.00 769.50,257.00 770.00,257.00 770.50,257.00 771.00,257.00 771.50,257.00 772.00,260.40 772.50,260.40 773.00,260.40 773.50,260.40 774.00,260.40 774.50,260.40 775.00,260.40 775.50,260.40 776.00,260.40 776.50,260.40 777.00,260.40 777.50,260.40 778.00,260.40 778.50,260.40 779.00,260.40 779.50,260.40 780.00,260.40 780.50,260.40 781.00,260.40 781.50,260.40 782.00,260.40 782.50,260.40 783.00,263.80 783.50,263.80 784.00,263.80 784.50,263.80 785.00,263.80 785.50,263.80 786.00,263.80 786.50,263.80 787.00,263.80 787.50,263.80 788.00,263.80 788.50,263.80 789.00,263.80 789.50,263.80 790.00,263.80 790.50,263.80 791.00,263.80 791.50,263.80 792.00,263.80 792.50,263.80 793.00,263.80 793.50,263.80 794.00,263.80 794.50,263.80 795.00,263.80 795.50,263.80 796.00,263.80 796.50,263.80 797.00,263.80 797.50,263.80 798.00,263.80 798.50,267.20 799.00,267.20 799.50,267.20 800.00,267.20 800.50,267.20 801.00,267.20 801.50,267.20 802.00,267.20 802.50,267.20 803.00,267.20 803.50,267.20 804.00,267.20 804.50,267.20 805.00,267.20 805.50,267.20 806.00,267.20 806.50,267.20 807.00,267.20 807.50,267.20 808.00,267.20 808.50,267.20 809.00,267.20 809.50,267.20 810.00,267.20 810.50,267.20 811.00,267.20 811.50,267.20 812.00,267.20 812.50,267.20 813.00,267.20 813.50,267.20 814.00,267.20 814.50,267.20 815.00,267.20 815.50,267.20 816.00,267.20 816.50,267.20 817.00,267.20 817.50,267.20 818.00,267.20 818.50,267.20 819.00,267.20 819.50,267.20 820.00,267.20 820.50,267.20 821.00,267.20 821.50,267.20 822.00,267.20 822.50,267.20 823.00,267.20 823.50,267.20 824.00,267.20 824.50,267.20 825.00,270.60 825.50,270.60 826.00,270.60 826.50,270.60 827.00,270.60 827.50,270.60 828.00,270.60 828.50,270.60 829.00,270.60 829.50,270.60 830.00,270.60 830.50,270.60 831.00,270.60 831.50,270.60 832.00,270.60 832.50,270.60 833.00,270.60 833.50,270.60 834.00,270.60 834.50,270.60 835.00,270.60 835.50,270.60 836.00,270.60 836.50,270.60 837.00,270.60 837.50,270.60 838.00,270.60 838.50,270.60 839.00,270.60 839.50,270.60 840.00,270.60 840.50,270.60 841.00,270.60 841.50,270.60 842.00,270.60 842.50,270.60 843.00,270.60 843.50,270.60 844.00,270.60 844.50,270.60 845.00,270.60 845.50,270.60 846.00,270.60 846.50,270.60 847.00,270.60 847.50,270.60 848.00,270.60 848.50,270.60 849.00,270.60 849.50,270.60 850.00,270.60 850.50,270.60 851.00,270.60 851.50,270.60 852.00,270.60 852.50,270.60 853.00,270.60 853.50,270.60 854.00,270.60 854.50,270.60 855.00,270.60 855.50,270.60 856.00,270.60 856.50,274.00 857.00,274.00 857.50,274.00 858.00,274.00 858.50,274.00 859.00,274.00 859.50,274.00 860.00,274.00 860.50,274.00 861.00,274.00 861.50,274.00 862.00,274.00 862.50,274.00 863.00,274.00 863.50,274.00 864.00,274.00 864.50,274.00 865.00,274.00 865.50,274.00 866.00,274.00 866.50,274.00 867.00,274.00 867.50,274.00 868.00,274.00 868.50,274.00 869.00,274.00 869.50,274.00 870.00,274.00 870.50,274.00 871.00,274.00 871.50,274.00 872.00,274.00 872.50,274.00 873.00,274.00 873.50,274.00 874.00,274.00 874.50,274.00 875.00,274.00 875.50,274.00 876.00,274.00 876.50,274.00 877.00,274.00 877.50,274.00 878.00,274.00 878.50,274.00 879.00,274.00 879.50,274.00 880.00,274.00 880.50,274.00 881.00,274.00 881.50,274.00 882.00,274.00 882.50,274.00 883.00,274.00 883.50,274.00 884.00,274.00 884.50,274.00 885.00,274.00 885.50,274.00 886.00,274.00 886.50,274.00 887.00,274.00 887.50,274.00 888.00,274.00 888.50,274.00 889.00,274.00 889.50,274.00 890.00,274.00 890.50,274.00 891.00,274.00 891.50,274.00 892.00,274.00 892.50,274.00 893.00,274.00 893.50,274.00 894.00,274.00 894.50,274.00 895.00,274.00 895.50,274.00 896.00,274.00 896.50,274.00 897.00,274.00 897.50,274.00 898.00,274.00 898.50,274.00 899.00,274.00 899.50,274.00 900.00,274.00 900.50,274.00 901.00,274.00 901.50,274.00 902.00,274.00 902.50,274.00 903.00,274.00 903.50,274.00 904.00,274.00 904.50,274.00 905.00,274.00 905.50,274.00 906.00,274.00 906.50,274.00 907.00,274.00 907.50,274.00 908.00,274.00 908.50,274.00 909.30,280.60 937.10,280.60" fill="none" stroke="#4646ff" stroke-width="1.3" stroke-linejoin="round" stroke-linecap="round"/>
<text x="586.1" y="367.8" text-anchor="middle" font-size="16.7" >0</text>
<text x="654.1" y="367.8" text-anchor="middle" font-size="16.7" >2000</text>
<text x="722.1" y="367.8" text-anchor="middle" font-size="16.7" >4000</text>
<text x="790.2" y="367.8" text-anchor="middle" font-size="16.7" >6000</text>
<text x="858.2" y="367.8" text-anchor="middle" font-size="16.7" >8000</text>
<text x="926.2" y="367.8" text-anchor="middle" font-size="16.7" >10000</text>
<text x="994.2" y="367.8" text-anchor="middle" font-size="16.7" >12000</text>
<text x="580.0" y="352.6" text-anchor="end" font-size="16.7" >-0.5</text>
<text x="580.0" y="286.2" text-anchor="end" font-size="16.7" >0</text>
<text x="580.0" y="219.8" text-anchor="end" font-size="16.7" >0.5</text>
<text x="580.0" y="153.5" text-anchor="end" font-size="16.7" >1</text>
<text x="580.0" y="87.1" text-anchor="end" font-size="16.7" >1.5</text>
<text x="580.0" y="20.7" text-anchor="end" font-size="16.7" >2</text>
<text x="790.2" y="389.6" text-anchor="middle" font-size="16.7" >Time / sec</text>
<text transform="translate(539.2,180.5) rotate(-90)" text-anchor="middle" font-size="16.7">Current / A</text>
<text x="780.3" y="428.5" text-anchor="middle" font-size="26" font-family="Liberation Serif, serif" style="stroke:none">(b)</text>
<text x="750.9" y="177.2" text-anchor="start" font-size="16.7" >cut-off current (20mA)</text>
<line x1="911.9" y1="180.6" x2="968" y2="267.5" stroke="#000" stroke-width="1.2"/>
<polygon points="975.2,278.3 956.7,264.5 966.7,265.1 970.2,255.8" fill="#000"/>
<line x1="713" y1="303.5" x2="903" y2="303.5" stroke="#333" stroke-width="1.2"/>
<polygon points="699.8,303.5 721.4,295.5 715.5,303.5 721.4,311.5" fill="#000"/>
<polygon points="916.0,303.5 894.4,311.5 900.3,303.5 894.4,295.5" fill="#000"/>
<text x="800.9" y="326.4" text-anchor="middle" font-size="16.7" >F2</text>
<rect x="827.6" y="24.9" width="156.7" height="67.1" fill="#fff" stroke="#3a3a3a" stroke-width="1.2"/>
<line x1="839.4" y1="37.8" x2="899" y2="37.8" stroke="#ff4a4a" stroke-width="1.3"/>
<text x="905.3" y="43.8" text-anchor="start" font-size="16.7" >cycle 2</text>
<line x1="839.4" y1="58.4" x2="899" y2="58.4" stroke="#40ee40" stroke-width="1.3"/>
<text x="905.3" y="64.4" text-anchor="start" font-size="16.7" >cycle 88</text>
<line x1="839.4" y1="78.8" x2="899" y2="78.8" stroke="#4646ff" stroke-width="1.3"/>
<text x="905.3" y="84.8" text-anchor="start" font-size="16.7" >cycle 165</text>
</svg>
</body></html>
